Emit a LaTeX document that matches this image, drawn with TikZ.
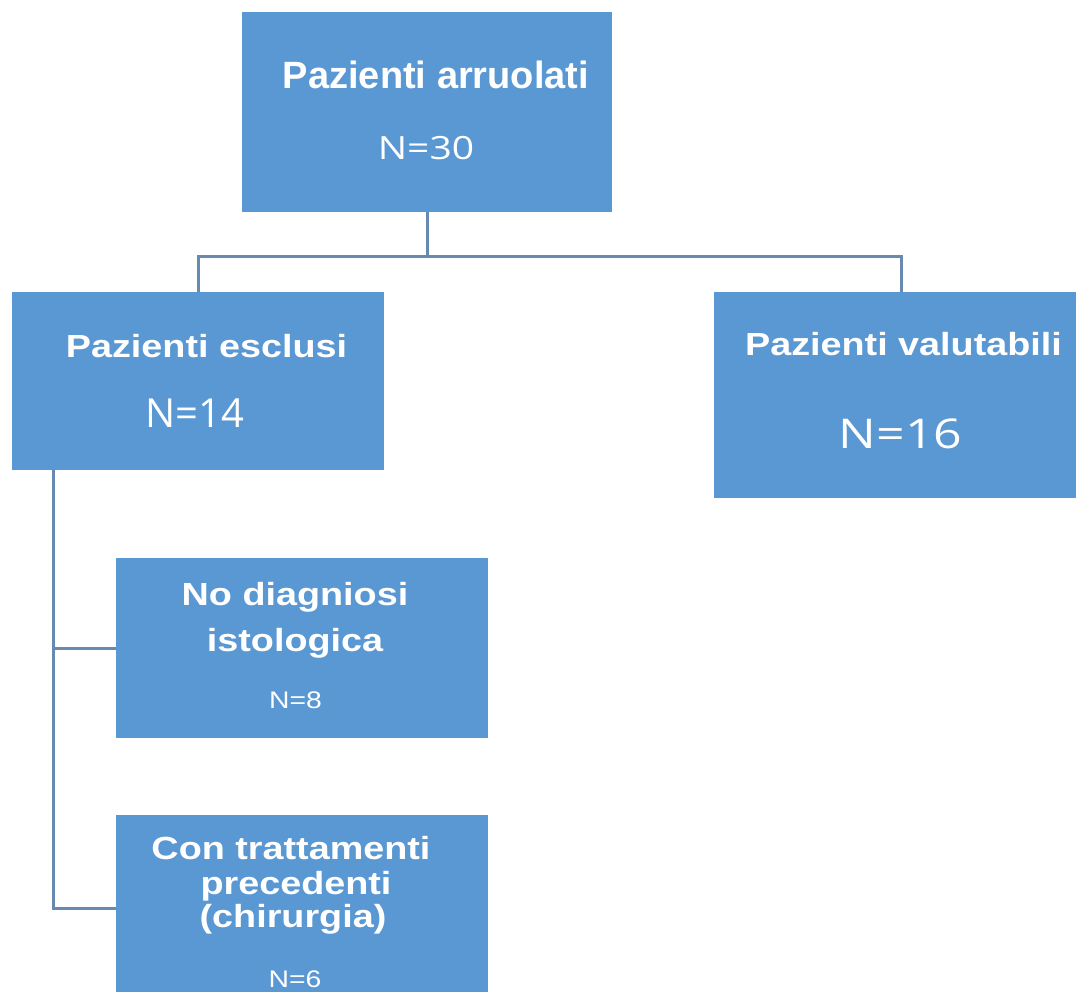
\documentclass[tikz,border=0pt]{standalone}
\usepackage{fontspec}
\newfontfamily\headfont{Liberation Sans}
\newfontfamily\headwide{Liberation Sans}[FakeStretch=1.18]
\newfontfamily\numfont{Open Sans}
\newfontfamily\numwide{Open Sans}[FakeStretch=1.22]
\definecolor{boxblue}{HTML}{5A98D3}
\definecolor{linkgray}{HTML}{698AB0}
\tikzset{
  box/.style={fill=boxblue, draw=none, inner sep=0pt, anchor=north west},
  txt/.style={text=white, anchor=base, inner sep=0pt},
  link/.style={draw=linkgray, line width=3pt}
}
\begin{document}
\begin{tikzpicture}[x=1pt, y=-1pt]
    \useasboundingbox (0,0) rectangle (1076,992);

    % Boxes
    \node[box, minimum width=370pt, minimum height=200pt] (arruolati) at (242,12) {};
    \node[box, minimum width=372pt, minimum height=178pt] (esclusi) at (12,292) {};
    \node[box, minimum width=362pt, minimum height=206pt] (valutabili) at (714,292) {};
    \node[box, minimum width=372pt, minimum height=180pt] (diagnosi) at (116,558) {};
    \node[box, minimum width=372pt, minimum height=177pt] (trattamenti) at (116,815) {};

    % Texts
    \node[txt] (arruolati-t) at (436,89) {\headfont\bfseries\fontsize{38}{40}\selectfont Pazienti arruolati};
    \node[txt] (arruolati-n) at (426,160) {\numwide\fontsize{32}{34}\selectfont N=30};
    \node[txt] (esclusi-t) at (206.5,357) {\headwide\bfseries\fontsize{32}{34}\selectfont Pazienti esclusi};
    \node[txt] (esclusi-n) at (194.5,427) {\numfont\fontsize{40}{42}\selectfont N=14};
    \node[txt] (valutabili-t) at (903.5,355) {\headwide\bfseries\fontsize{32}{34}\selectfont Pazienti valutabili};
    \node[txt] (valutabili-n) at (900.5,448) {\numwide\fontsize{41}{43}\selectfont N=16};
    \node[txt] (diagnosi-t1) at (295,605) {\headwide\bfseries\fontsize{32}{34}\selectfont No diagniosi};
    \node[txt] (diagnosi-t2) at (295,651) {\headwide\bfseries\fontsize{32}{34}\selectfont istologica};
    \node[txt] (diagnosi-n) at (295.5,708) {\headwide\fontsize{24}{26}\selectfont N=8};
    \node[txt] (trattamenti-t1) at (291,859) {\headwide\bfseries\fontsize{32}{34}\selectfont Con trattamenti};
    \node[txt] (trattamenti-t2) at (296,894) {\headwide\bfseries\fontsize{32}{34}\selectfont precedenti};
    \node[txt] (trattamenti-t3) at (293,927) {\headwide\bfseries\fontsize{32}{34}\selectfont (chirurgia)};
    \node[txt] (trattamenti-n) at (295,987) {\headwide\fontsize{24}{26}\selectfont N=6};

    % Connectors
    \coordinate (bus) at ([yshift=-44pt]arruolati.south);
    \coordinate (trunk) at (53,470);
    \draw[link] (arruolati.south) -- (bus) -| (esclusi.north);
    \draw[link] (bus) -| ([xshift=6pt]valutabili.north);
    \draw[link] (trunk) |- (diagnosi.west);
    \draw[link] (trunk) |- ([yshift=-4.5pt]trattamenti.west);
\end{tikzpicture}
\end{document}
